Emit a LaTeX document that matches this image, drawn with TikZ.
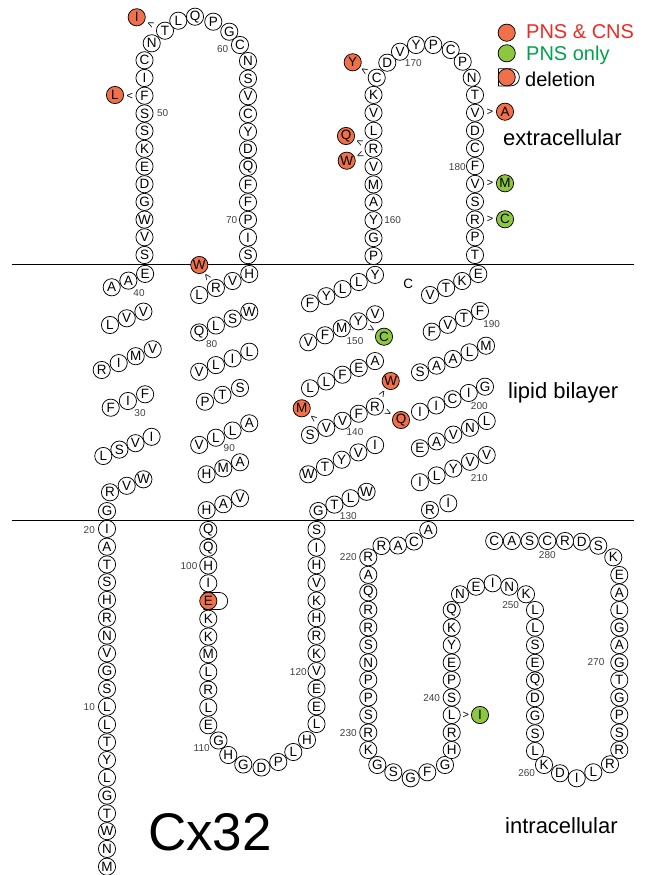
\documentclass[tikz,border=0pt]{standalone}
\usepackage{fontspec}
\setmainfont{Liberation Sans}
\usetikzlibrary{shapes.misc}
\definecolor{mutred}{HTML}{F0704A}
\definecolor{mutgreen}{HTML}{8DC63F}
\definecolor{legred}{HTML}{EE2A24}
\definecolor{leggreen}{HTML}{00A14B}
\definecolor{numgray}{HTML}{404040}
\tikzset{
 res/.style={circle, draw=black, line width=0.75pt, fill=white, minimum size=17.2pt, inner sep=0pt, font=\fontsize{13.5}{13.5}\selectfont},
 mutR/.style={res, fill=mutred},
 mutG/.style={res, fill=mutgreen},
 num/.style={font=\fontsize{10}{10}\selectfont, text=numgray, inner sep=0pt},
 chev/.style={sloped, allow upside down, font=\fontsize{11}{11}\selectfont, inner sep=0pt},
 memb/.style={line width=1pt},
 region/.style={font=\fontsize{22}{22}\selectfont, anchor=base west, inner sep=0pt},
 legtext/.style={font=\fontsize{20}{20}\selectfont, anchor=base west, inner sep=0pt},
 delbg/.style={rounded rectangle, rounded rectangle west arc=none, draw, line width=0.75pt, fill=white, minimum height=17.2pt, inner sep=0pt},
}
\newcommand\resseg[6]{%
  \foreach \rl [count=\k from 0] in {#6}{%
    \pgfmathtruncatemacro\idx{#1+\k}%
    \node[res] (r\idx) at ({#2+\k*(#4)},{#3+\k*(#5)}) {\rl};
  }}
\begin{document}
\begin{tikzpicture}[x=1pt,y=-1pt]
\useasboundingbox (0,0) rectangle (648,875);
% membrane
\coordinate (m1a) at (12,264); \coordinate (m1b) at (634,264);
\coordinate (m2a) at (12,520); \coordinate (m2b) at (634,520);
\draw[memb] (m1a) -- (m1b);
\draw[memb] (m2a) -- (m2b);
% N-term and TM1
\resseg{1}{107}{866.7}{0}{-17.78}{M,N,W,T,G,L,Y,T,L,L,S,G,V,N,R,H,S,T,A,I,G}
\resseg{22}{110}{492.3}{16.7}{-6.5}{R,V,W}
\resseg{25}{103.3}{456}{16.1}{-6.4}{L,S,V,I}
\resseg{29}{110.7}{407.7}{17.2}{-6.7}{F,I,F}
\resseg{32}{101.7}{370}{17}{-6.9}{R,I,M,V}
\resseg{36}{110}{325}{16.7}{-6.7}{L,V,V}
\resseg{39}{111.7}{287.3}{16.7}{-6.7}{A,A,E}
% loop 1
\resseg{42}{144.5}{255}{0}{-17.7}{S,V,W,G,D,E,K,S,S,F,I,C}
\node[res] (r54) at (151.7,43.3) {N};
\node[res] (r55) at (165,30.7) {T};
\node[res] (r56) at (178.3,20.7) {L};
\node[res] (r57) at (195,16.7) {Q};
\node[res] (r58) at (213.3,21.7) {P};
\node[res] (r59) at (229.3,31.7) {G};
\node[res] (r60) at (240,45) {C};
\resseg{61}{248}{61}{0}{17.65}{N,S,V,C,Y,D,Q,F,F,P,I,S}
% TM2
\resseg{73}{249.3}{274}{-16.7}{7}{H,V,R,L}
\resseg{77}{249.3}{311.7}{-16.7}{6.9}{W,S,L,Q}
\resseg{81}{249.3}{351.7}{-16.7}{6.7}{L,I,L,V}
\resseg{85}{240}{388}{-17.5}{6.85}{S,T,P}
\resseg{88}{249.3}{423.3}{-16.7}{7.2}{A,L,L,V}
\resseg{92}{240}{462.3}{-16.7}{6}{A,M,H}
\resseg{95}{240}{498.3}{-16.7}{5.9}{V,A,H}
% cytoplasmic loop
\resseg{98}{208.3}{530}{0}{17.75}{Q,Q,H,I}
\node[delbg, minimum width=24pt] (del102) at (215.7,601) {};
\node[mutR] (r102) at (208.3,601) {E};
\resseg{103}{208.3}{618.75}{0}{17.75}{K,K,M,L,R,L,E}
\node[res] (r110) at (218.5,740.5) {G};
\node[res] (r111) at (228.3,755) {H};
\node[res] (r112) at (243.3,764.5) {G};
\node[res] (r113) at (261.5,767.5) {D};
\node[res] (r114) at (278.3,762) {P};
\node[res] (r115) at (293.3,752) {L};
\node[res] (r116) at (307,740) {H};
\resseg{117}{316.5}{724}{0}{-17.64}{L,E,E,V,K,R,H,K,V,H,I,S}
% TM3
\resseg{129}{318.3}{511}{16.1}{-6.4}{G,T,L,W}
\resseg{133}{308.3}{474.3}{16.7}{-7.3}{W,T,Y,V,I}
\resseg{138}{310}{435}{16.25}{-7.1}{S,V,V,F,R}
\resseg{143}{310}{388.3}{16.25}{-6.8}{L,L,F,E,A}
\resseg{148}{308.3}{342.3}{16.7}{-7}{V,F,M,Y,V}
\resseg{153}{310}{303.3}{16.25}{-7.1}{F,Y,L,L,Y}
% loop 2
\resseg{158}{373.5}{256}{0}{-17.9}{P,G,Y,A,M,V,R,L,V,K}
\node[res] (r168) at (376.7,77.7) {C};
\node[res] (r169) at (387.3,62.7) {D};
\node[res] (r170) at (400,51.7) {V};
\node[res] (r171) at (416,45) {Y};
\node[res] (r172) at (433.3,45) {P};
\node[res] (r173) at (450.7,50) {C};
\node[res] (r174) at (462.7,61.7) {P};
\node[res] (r175) at (471.7,77.7) {N};
\resseg{176}{475}{95}{0}{17.78}{T,V,D,C,F,V,S,R,P,T}
% TM4
\resseg{186}{478.3}{274}{-16.1}{7}{E,K,T,V}
\resseg{190}{480}{311}{-16.1}{6.9}{F,T,V,F}
\resseg{194}{486}{345.7}{-16.5}{6.65}{M,L,A,A,S}
\resseg{199}{485}{386.7}{-16.25}{6.25}{G,I,C,I,I}
\resseg{204}{486.7}{421}{-16.7}{6.8}{L,N,V,A,E}
\resseg{209}{486.7}{455}{-16.7}{6.8}{V,V,Y,L,I}
\node[res] (r214) at (448.3,503.3) {I};
\node[res] (r215) at (430,510) {R};
% C-terminus
\node[res] (r216) at (428.3,530) {A};
\node[res] (r217) at (414,541.5) {C};
\node[res] (r218) at (398,545.5) {A};
\node[res] (r219) at (381.5,546) {R};
\resseg{220}{368.3}{557.3}{0}{17.52}{R,A,Q,R,R,S,N,P,P,S,R,K}
\node[res] (r232) at (377.3,765) {G};
\node[res] (r233) at (393.3,772.3) {S};
\node[res] (r234) at (410.7,778.3) {G};
\node[res] (r235) at (427.3,772.3) {F};
\node[res] (r236) at (445,765) {G};
\resseg{237}{451.7}{750}{0}{-17.5}{H,R,L,S,P,E,Y,K,Q}
\node[res] (r246) at (460,594.3) {N};
\node[res] (r247) at (476,586.7) {E};
\node[res] (r248) at (492.7,583.3) {I};
\node[res] (r249) at (509.3,586.7) {N};
\node[res] (r250) at (526,594.3) {K};
\resseg{251}{535}{610}{0}{17.625}{L,L,S,E,Q,D,G,S,L}
\node[res] (r260) at (544,765) {K};
\node[res] (r261) at (560,773.3) {D};
\node[res] (r262) at (576.7,778.3) {I};
\node[res] (r263) at (593.3,772.3) {L};
\node[res] (r264) at (610,764.3) {R};
\resseg{265}{619.3}{750}{0}{-17.5}{R,S,P,G,T,G,A,G,L,A,E}
\node[res] (r276) at (613.3,557.3) {K};
\node[res] (r277) at (598.3,545.7) {S};
\node[res] (r278) at (581.7,541.7) {D};
\node[res] (r279) at (565,541) {R};
\node[res] (r280) at (547.3,541) {C};
\node[res] (r281) at (529.6,541) {S};
\node[res] (r282) at (511.9,541) {A};
\node[res] (r283) at (494.2,541) {C};
% mutants
\node[mutR] (mI55) at (136.7,17.3) {I};
\node[mutR] (mL51) at (115,95) {L};
\node[mutR] (mW75) at (199.3,265) {W};
\node[mutR] (mY168) at (352.7,62.3) {Y};
\node[mutR] (mQ164) at (346,136) {Q};
\node[mutR] (mW164) at (346.7,160.7) {W};
\node[mutR] (mA177) at (505,111.7) {A};
\node[mutG] (mM181) at (505,183.3) {M};
\node[mutG] (mC183) at (505,219.3) {C};
\node[mutR] (mM139) at (301.7,408.3) {M};
\node[mutR] (mW142) at (390.7,381) {W};
\node[mutR] (mQ142) at (401,420) {Q};
\node[mutG] (mC151) at (384,336.7) {C};
\node[mutG] (mI239) at (480,715) {I};
\path (r55) -- node[chev] (c1) {>} (mI55);
\path (r51) -- node[chev] (c2) {>} (mL51);
\path (r75) -- node[chev] (c3) {>} (mW75);
\path (r168) -- node[chev] (c4) {>} (mY168);
\path (r164) -- node[chev] (c5) {>} (mQ164);
\path (r164) -- node[chev] (c6) {>} (mW164);
\path (r177) -- node[chev] (c7) {>} (mA177);
\path (r181) -- node[chev] (c8) {>} (mM181);
\path (r183) -- node[chev] (c9) {>} (mC183);
\path (r139) -- node[chev] (c10) {>} (mM139);
\path (r142) -- node[chev] (c11) {>} (mW142);
\path (r142) -- node[chev] (c12) {>} (mQ142);
\path (r151) -- node[chev] (c13) {>} (mC151);
\path (r239) -- node[chev] (c14) {>} (mI239);
% numbers
\node[num] (n10) at (89.3,707.3) {10};
\node[num] (n20) at (89.3,530) {20};
\node[num] (n30) at (140,413) {30};
\node[num] (n40) at (139,293.3) {40};
\node[num] (n50) at (162.7,113.3) {50};
\node[num] (n60) at (222.7,49.3) {60};
\node[num] (n70) at (231.7,220) {70};
\node[num] (n80) at (211.7,344.3) {80};
\node[num] (n90) at (229.3,447.7) {90};
\node[num] (n100) at (189,566) {100};
\node[num] (n110) at (201.7,748.3) {110};
\node[num] (n120) at (298.3,671.7) {120};
\node[num] (n130) at (348.3,515.7) {130};
\node[num] (n140) at (355,432.3) {140};
\node[num] (n150) at (355,341) {150};
\node[num] (n160) at (392.7,220) {160};
\node[num] (n170) at (413.3,63.3) {170};
\node[num] (n180) at (457.3,166.7) {180};
\node[num] (n190) at (491.7,324.3) {190};
\node[num] (n200) at (479.3,405.7) {200};
\node[num] (n210) at (479.3,477.7) {210};
\node[num] (n220) at (348.3,557.3) {220};
\node[num] (n230) at (348.3,733.3) {230};
\node[num] (n240) at (431.7,697.7) {240};
\node[num] (n250) at (510.7,605) {250};
\node[num] (n260) at (526.7,773.3) {260};
\node[num] (n270) at (596,662.3) {270};
\node[num] (n280) at (547.3,555) {280};
% extra text
\node[font=\fontsize{13.5}{13.5}\selectfont, inner sep=0pt] (ctext) at (408.3,284.3) {C};
\node[region] (ext) at (503,145) {extracellular};
\node[region] (lip) at (508,398) {lipid bilayer};
\node[region] (intr) at (505,833) {intracellular};
\node[font=\fontsize{53}{53}\selectfont, anchor=base, inner sep=0pt] (title) at (210,850) {Cx32};
% legend
\node[mutR] (lg1) at (506.7,32.7) {};
\node[legtext, text=legred] (lt1) at (526,38.5) {PNS \& CNS};
\node[mutG] (lg2) at (506.7,53.3) {};
\node[legtext, text=leggreen] (lt2) at (526,60) {PNS only};
\node[delbg, minimum width=21pt] (lg3b) at (508.9,77.3) {};
\node[mutR] (lg3) at (506.7,77.3) {};
\node[legtext] (lt3) at (525,86) {deletion};
\end{tikzpicture}
\end{document}
